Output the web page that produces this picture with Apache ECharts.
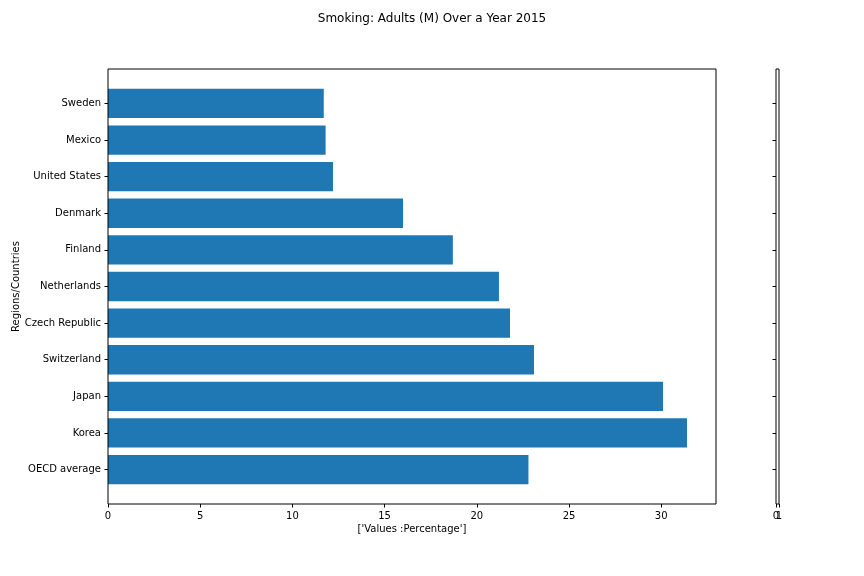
<!DOCTYPE html>
<html>
<head>
<meta charset="utf-8">
<script src="https://cdn.jsdelivr.net/npm/echarts@6/dist/echarts.min.js"></script>
<style>html,body{margin:0;padding:0;background:#fff}#c{width:864px;height:576px}</style>
</head>
<body>
<div id="c"></div>
<script>
var categories = ['OECD average','Korea','Japan','Switzerland','Czech Republic','Netherlands','Finland','Denmark','United States','Mexico','Sweden'];
var values = [22.8, 31.4, 30.1, 23.1, 21.8, 21.2, 18.7, 16.0, 12.2, 11.8, 11.7];
var xTicks = [0, 5, 10, 15, 20, 25, 30];
var sideTicksA = [0];
var sideTicksB = [1];
var titleText = 'Smoking: Adults (M) Over a Year 2015';
var xName = "['Values :Percentage']";
var yName = 'Regions/Countries';

var xMax = Math.max.apply(null, values) * 1.05;
var FONT = 'DejaVu Sans';
var chart = echarts.init(document.getElementById('c'), null, {renderer: 'canvas'});
var frameTop = 69, frameH = 435, band = frameH / (categories.length + 0.88);
var catH = band * categories.length;
var catTop = frameTop + (frameH - catH) / 2;

function g(o) { o.containLabel = false; o.outerBoundsMode = 'none'; return o; }
function sideAxis(ticks) {
  return {gridIndex: 2, type: 'value', min: 0, max: 1, position: 'bottom',
    axisLine: {show: false}, splitLine: {show: false},
    axisTick: {show: true, length: 3.5, lineStyle: {color: '#000'}, customValues: ticks},
    axisLabel: {margin: 7, fontSize: 10, color: '#000', fontFamily: FONT, customValues: ticks, hideOverlap: false}};
}

chart.setOption({
  animation: false,
  backgroundColor: '#fff',
  textStyle: {fontFamily: FONT, color: '#000'},
  title: {text: titleText, left: 'center', top: 8, textStyle: {fontFamily: FONT, fontSize: 12, fontWeight: 'normal', color: '#000'}},
  grid: [
    g({left: 108, top: catTop, width: 608, height: catH, show: false}),
    g({left: 108, top: frameTop, width: 608, height: frameH, show: true, borderColor: '#000', borderWidth: 1, z: 10}),
    g({left: 776, top: frameTop, width: 3, height: frameH, show: true, borderColor: '#000', borderWidth: 1}),
    g({left: 776, top: catTop, width: 3, height: catH, show: false})
  ],
  xAxis: [
    {gridIndex: 0, type: 'value', min: 0, max: xMax, show: false},
    {gridIndex: 1, type: 'value', min: 0, max: xMax, interval: 5,
      name: xName, nameLocation: 'middle', nameGap: 20, nameMoveOverlap: false,
      nameTextStyle: {fontFamily: FONT, fontSize: 10, color: '#000'},
      axisLine: {show: false}, splitLine: {show: false},
      axisTick: {show: true, length: 3.5, lineStyle: {color: '#000'}, customValues: xTicks},
      axisLabel: {margin: 7, fontSize: 10, color: '#000', fontFamily: FONT, customValues: xTicks}},
    sideAxis(sideTicksA),
    sideAxis(sideTicksB),
    {gridIndex: 3, type: 'value', min: 0, max: 1, show: false}
  ],
  yAxis: [
    {gridIndex: 0, type: 'category', data: categories,
      name: yName, nameLocation: 'middle', nameGap: 87, nameRotate: 90, nameMoveOverlap: false,
      nameTextStyle: {fontFamily: FONT, fontSize: 10, color: '#000'},
      axisLine: {show: false},
      axisTick: {show: true, alignWithLabel: true, length: 3.5, lineStyle: {color: '#000'}},
      axisLabel: {margin: 7, fontSize: 10, color: '#000', fontFamily: FONT}},
    {gridIndex: 1, type: 'value', min: 0, max: 1, show: false},
    {gridIndex: 2, type: 'value', min: 0, max: 1, show: false},
    {gridIndex: 3, type: 'category', data: categories,
      axisLine: {show: false},
      axisTick: {show: true, alignWithLabel: true, length: 3.5, lineStyle: {color: '#000'}},
      axisLabel: {show: false}}
  ],
  series: [{
    type: 'bar', xAxisIndex: 0, yAxisIndex: 0, data: values,
    barWidth: band * 0.8,
    itemStyle: {color: '#1f77b4'}
  }]
});
</script>
</body>
</html>
